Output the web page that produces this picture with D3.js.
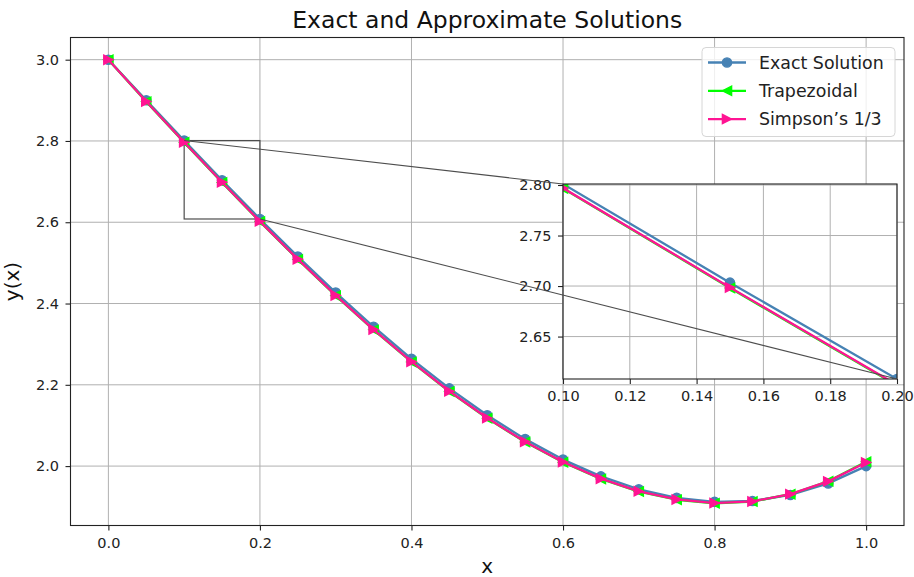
<!DOCTYPE html>
<html>
<head>
<meta charset="utf-8">
<script src="https://cdn.jsdelivr.net/npm/d3@7"></script>
<style>
  body { margin: 0; background: #fff; }
  svg { display: block; font-family: "DejaVu Sans", sans-serif; }
</style>
</head>
<body>
<div id="chart"></div>
<script>
// data
const xValues = [0, 0.05, 0.1, 0.15, 0.2, 0.25, 0.3, 0.35, 0.4, 0.45, 0.5,
                 0.55, 0.6, 0.65, 0.7, 0.75, 0.8, 0.85, 0.9, 0.95, 1.0];
const exactValues = [3.0, 2.900125, 2.801, 2.703375, 2.608, 2.515625, 2.427, 2.342875, 2.264, 2.191125, 2.125,
                     2.066375, 2.016, 1.974625, 1.943, 1.921875, 1.912, 1.914125, 1.929, 1.957375, 2.0];
const trapezoidalValues = [3.0, 2.8968, 2.7966, 2.6981, 2.6016, 2.5085, 2.4194, 2.3352, 2.2563, 2.1834, 2.1175,
                           2.0592, 2.0093, 1.9684, 1.9373, 1.9172, 1.9084, 1.9127, 1.9308, 1.9625, 2.0105];
const simpsonValues = [3.0, 2.8971, 2.797, 2.6986, 2.6022, 2.5091, 2.420, 2.3359, 2.257, 2.1841, 2.1182,
                       2.0599, 2.010, 1.9691, 1.938, 1.9179, 1.909, 1.9131, 1.931, 1.9624, 2.009];
const seriesNames = ["Exact Solution", "Trapezoidal", "Simpson\u2019s 1/3"];

const mainXTicks = [0, 0.2, 0.4, 0.6, 0.8, 1.0];
const mainYTicks = [2.0, 2.2, 2.4, 2.6, 2.8, 3.0];
const insetXTicks = [0.10, 0.12, 0.14, 0.16, 0.18, 0.20];
const insetYTicks = [2.65, 2.70, 2.75, 2.80];
const zoomX = [0.1, 0.2];

const W = 914, H = 577;
const main = { left: 70.5, right: 904, top: 37.5, bottom: 525.5 };
const inset = { left: 563, right: 897, top: 184, bottom: 379 };

const series = [
  { name: seriesNames[0], values: exactValues, color: "#4682b4", marker: "circle" },
  { name: seriesNames[1], values: trapezoidalValues, color: "#00ff00", marker: "left" },
  { name: seriesNames[2], values: simpsonValues, color: "#ff1493", marker: "right" }
];

const svg = d3.select("#chart").append("svg")
  .attr("width", W).attr("height", H);

// matplotlib-like 5% margins
function padded(ext) {
  const m = (ext[1] - ext[0]) * 0.05;
  return [ext[0] - m, ext[1] + m];
}
const allY = series.flatMap(s => s.values);

const x = d3.scaleLinear().domain(padded(d3.extent(xValues))).range([main.left, main.right]);
const y = d3.scaleLinear().domain(padded(d3.extent(allY))).range([main.bottom, main.top]);

// zoomed region: y limits from the exact solution at the zoom ends
const yLo = exactValues[xValues.indexOf(zoomX[1])];
const yHi = exactValues[xValues.indexOf(zoomX[0])];
const xi = d3.scaleLinear().domain(zoomX).range([inset.left, inset.right]);
const yi = d3.scaleLinear().domain([yLo, yHi]).range([inset.bottom, inset.top]);

const defs = svg.append("defs");
defs.append("clipPath").attr("id", "clipMain").append("rect")
  .attr("x", main.left).attr("y", main.top)
  .attr("width", main.right - main.left).attr("height", main.bottom - main.top);
defs.append("clipPath").attr("id", "clipInset").append("rect")
  .attr("x", inset.left).attr("y", inset.top)
  .attr("width", inset.right - inset.left).attr("height", inset.bottom - inset.top);

const MS = 4.6;
function markerPath(type) {
  if (type === "left") return `M${-MS},0L${MS},${-MS}L${MS},${MS}Z`;
  if (type === "right") return `M${MS},0L${-MS},${-MS}L${-MS},${MS}Z`;
  return d3.symbol(d3.symbolCircle, Math.PI * MS * MS)();
}

function drawPanel(g, xs, ys, box, xTicks, yTicks, fmt, clipId) {
  // background
  g.append("rect")
    .attr("x", box.left).attr("y", box.top)
    .attr("width", box.right - box.left).attr("height", box.bottom - box.top)
    .attr("fill", "#fff");

  // grid
  const grid = g.append("g").attr("stroke", "#b0b0b0").attr("stroke-width", 1);
  grid.selectAll(".gx").data(xTicks).join("line")
    .attr("x1", d => xs(d)).attr("x2", d => xs(d))
    .attr("y1", box.top).attr("y2", box.bottom);
  grid.selectAll(".gy").data(yTicks).join("line")
    .attr("y1", d => ys(d)).attr("y2", d => ys(d))
    .attr("x1", box.left).attr("x2", box.right);

  // axes
  const xAxis = d3.axisBottom(xs).tickValues(xTicks).tickFormat(fmt)
    .tickSizeInner(5).tickSizeOuter(0).tickPadding(7);
  const yAxis = d3.axisLeft(ys).tickValues(yTicks).tickFormat(fmt)
    .tickSizeInner(5).tickSizeOuter(0).tickPadding(6.5);
  const gx = g.append("g").attr("transform", `translate(0,${box.bottom})`).call(xAxis);
  const gy = g.append("g").attr("transform", `translate(${box.left},0)`).call(yAxis);
  [gx, gy].forEach(a => {
    a.attr("font-size", null).attr("font-family", null);
    a.select(".domain").remove();
    a.selectAll("line").attr("stroke", "#222").attr("stroke-width", 1.1);
    a.selectAll("text").attr("fill", "#222").style("font-size", "14.5px");
  });

  // data
  const plot = g.append("g").attr("clip-path", `url(#${clipId})`);
  series.forEach(s => {
    const pts = xValues.map((xv, i) => [xv, s.values[i]]);
    plot.append("path")
      .datum(pts)
      .attr("fill", "none")
      .attr("stroke", s.color)
      .attr("stroke-width", 2.3)
      .attr("stroke-linejoin", "round")
      .attr("d", d3.line().x(d => xs(d[0])).y(d => ys(d[1])));
    plot.selectAll(null).data(pts).join("path")
      .attr("transform", d => `translate(${xs(d[0])},${ys(d[1])})`)
      .attr("d", markerPath(s.marker))
      .attr("fill", s.color)
      .attr("stroke", s.color)
      .attr("stroke-width", 1.4);
  });
  return plot;
}

const fmt1 = d3.format(".1f");
const fmt2 = d3.format(".2f");

// main axes
const gMain = svg.append("g");
const mainPlot = drawPanel(gMain, x, y, main, mainXTicks, mainYTicks, fmt1, "clipMain");

// zoom indicator rectangle (under the data)
gMain.insert("rect", () => mainPlot.node())
  .attr("x", x(zoomX[0])).attr("y", y(yHi))
  .attr("width", x(zoomX[1]) - x(zoomX[0]))
  .attr("height", y(yLo) - y(yHi))
  .attr("fill", "none").attr("stroke", "#4d4d4d").attr("stroke-width", 1.2);

gMain.append("rect")
  .attr("x", main.left).attr("y", main.top)
  .attr("width", main.right - main.left).attr("height", main.bottom - main.top)
  .attr("fill", "none").attr("stroke", "#222").attr("stroke-width", 1.1);

// title and labels
svg.append("text").attr("x", (main.left + main.right) / 2).attr("y", 27.7)
  .attr("text-anchor", "middle").attr("font-size", "23.5px").attr("fill", "#111")
  .text("Exact and Approximate Solutions");
svg.append("text").attr("x", (main.left + main.right) / 2).attr("y", 573)
  .attr("text-anchor", "middle").attr("font-size", "20px").attr("fill", "#111")
  .text("x");
svg.append("text")
  .attr("transform", `translate(18.5,${(main.top + main.bottom) / 2}) rotate(-90)`)
  .attr("text-anchor", "middle").attr("font-size", "20px").attr("fill", "#111")
  .text("y(x)");

// legend
const leg = svg.append("g");
leg.append("rect")
  .attr("x", 702).attr("y", 47.5).attr("width", 193).attr("height", 89).attr("rx", 4)
  .attr("fill", "#fff").attr("fill-opacity", 0.8)
  .attr("stroke", "#d6d6d6").attr("stroke-width", 1);
series.forEach((s, i) => {
  const cy = 62.5 + i * 28.3;
  leg.append("line").attr("x1", 708).attr("x2", 746).attr("y1", cy).attr("y2", cy)
    .attr("stroke", s.color).attr("stroke-width", 2.3);
  leg.append("path").attr("transform", `translate(727,${cy})`)
    .attr("d", markerPath(s.marker)).attr("fill", s.color)
    .attr("stroke", s.color).attr("stroke-width", 1.4);
  leg.append("text").attr("x", 759).attr("y", cy + 6.3)
    .attr("font-size", "17.4px").attr("fill", "#222").text(s.name);
});

// inset axes
const gInset = svg.append("g");
drawPanel(gInset, xi, yi, inset, insetXTicks, insetYTicks, fmt2, "clipInset");
gInset.append("rect")
  .attr("x", inset.left).attr("y", inset.top)
  .attr("width", inset.right - inset.left).attr("height", inset.bottom - inset.top)
  .attr("fill", "none").attr("stroke", "#222").attr("stroke-width", 1.1);

// connectors: upper-left and lower-right corners
const conn = svg.append("g").attr("stroke", "#4d4d4d").attr("stroke-width", 1.1);
conn.append("line")
  .attr("x1", x(zoomX[0])).attr("y1", y(yHi))
  .attr("x2", xi(zoomX[0])).attr("y2", yi(yHi));
conn.append("line")
  .attr("x1", x(zoomX[1])).attr("y1", y(yLo))
  .attr("x2", xi(zoomX[1])).attr("y2", yi(yLo));
</script>
</body>
</html>
